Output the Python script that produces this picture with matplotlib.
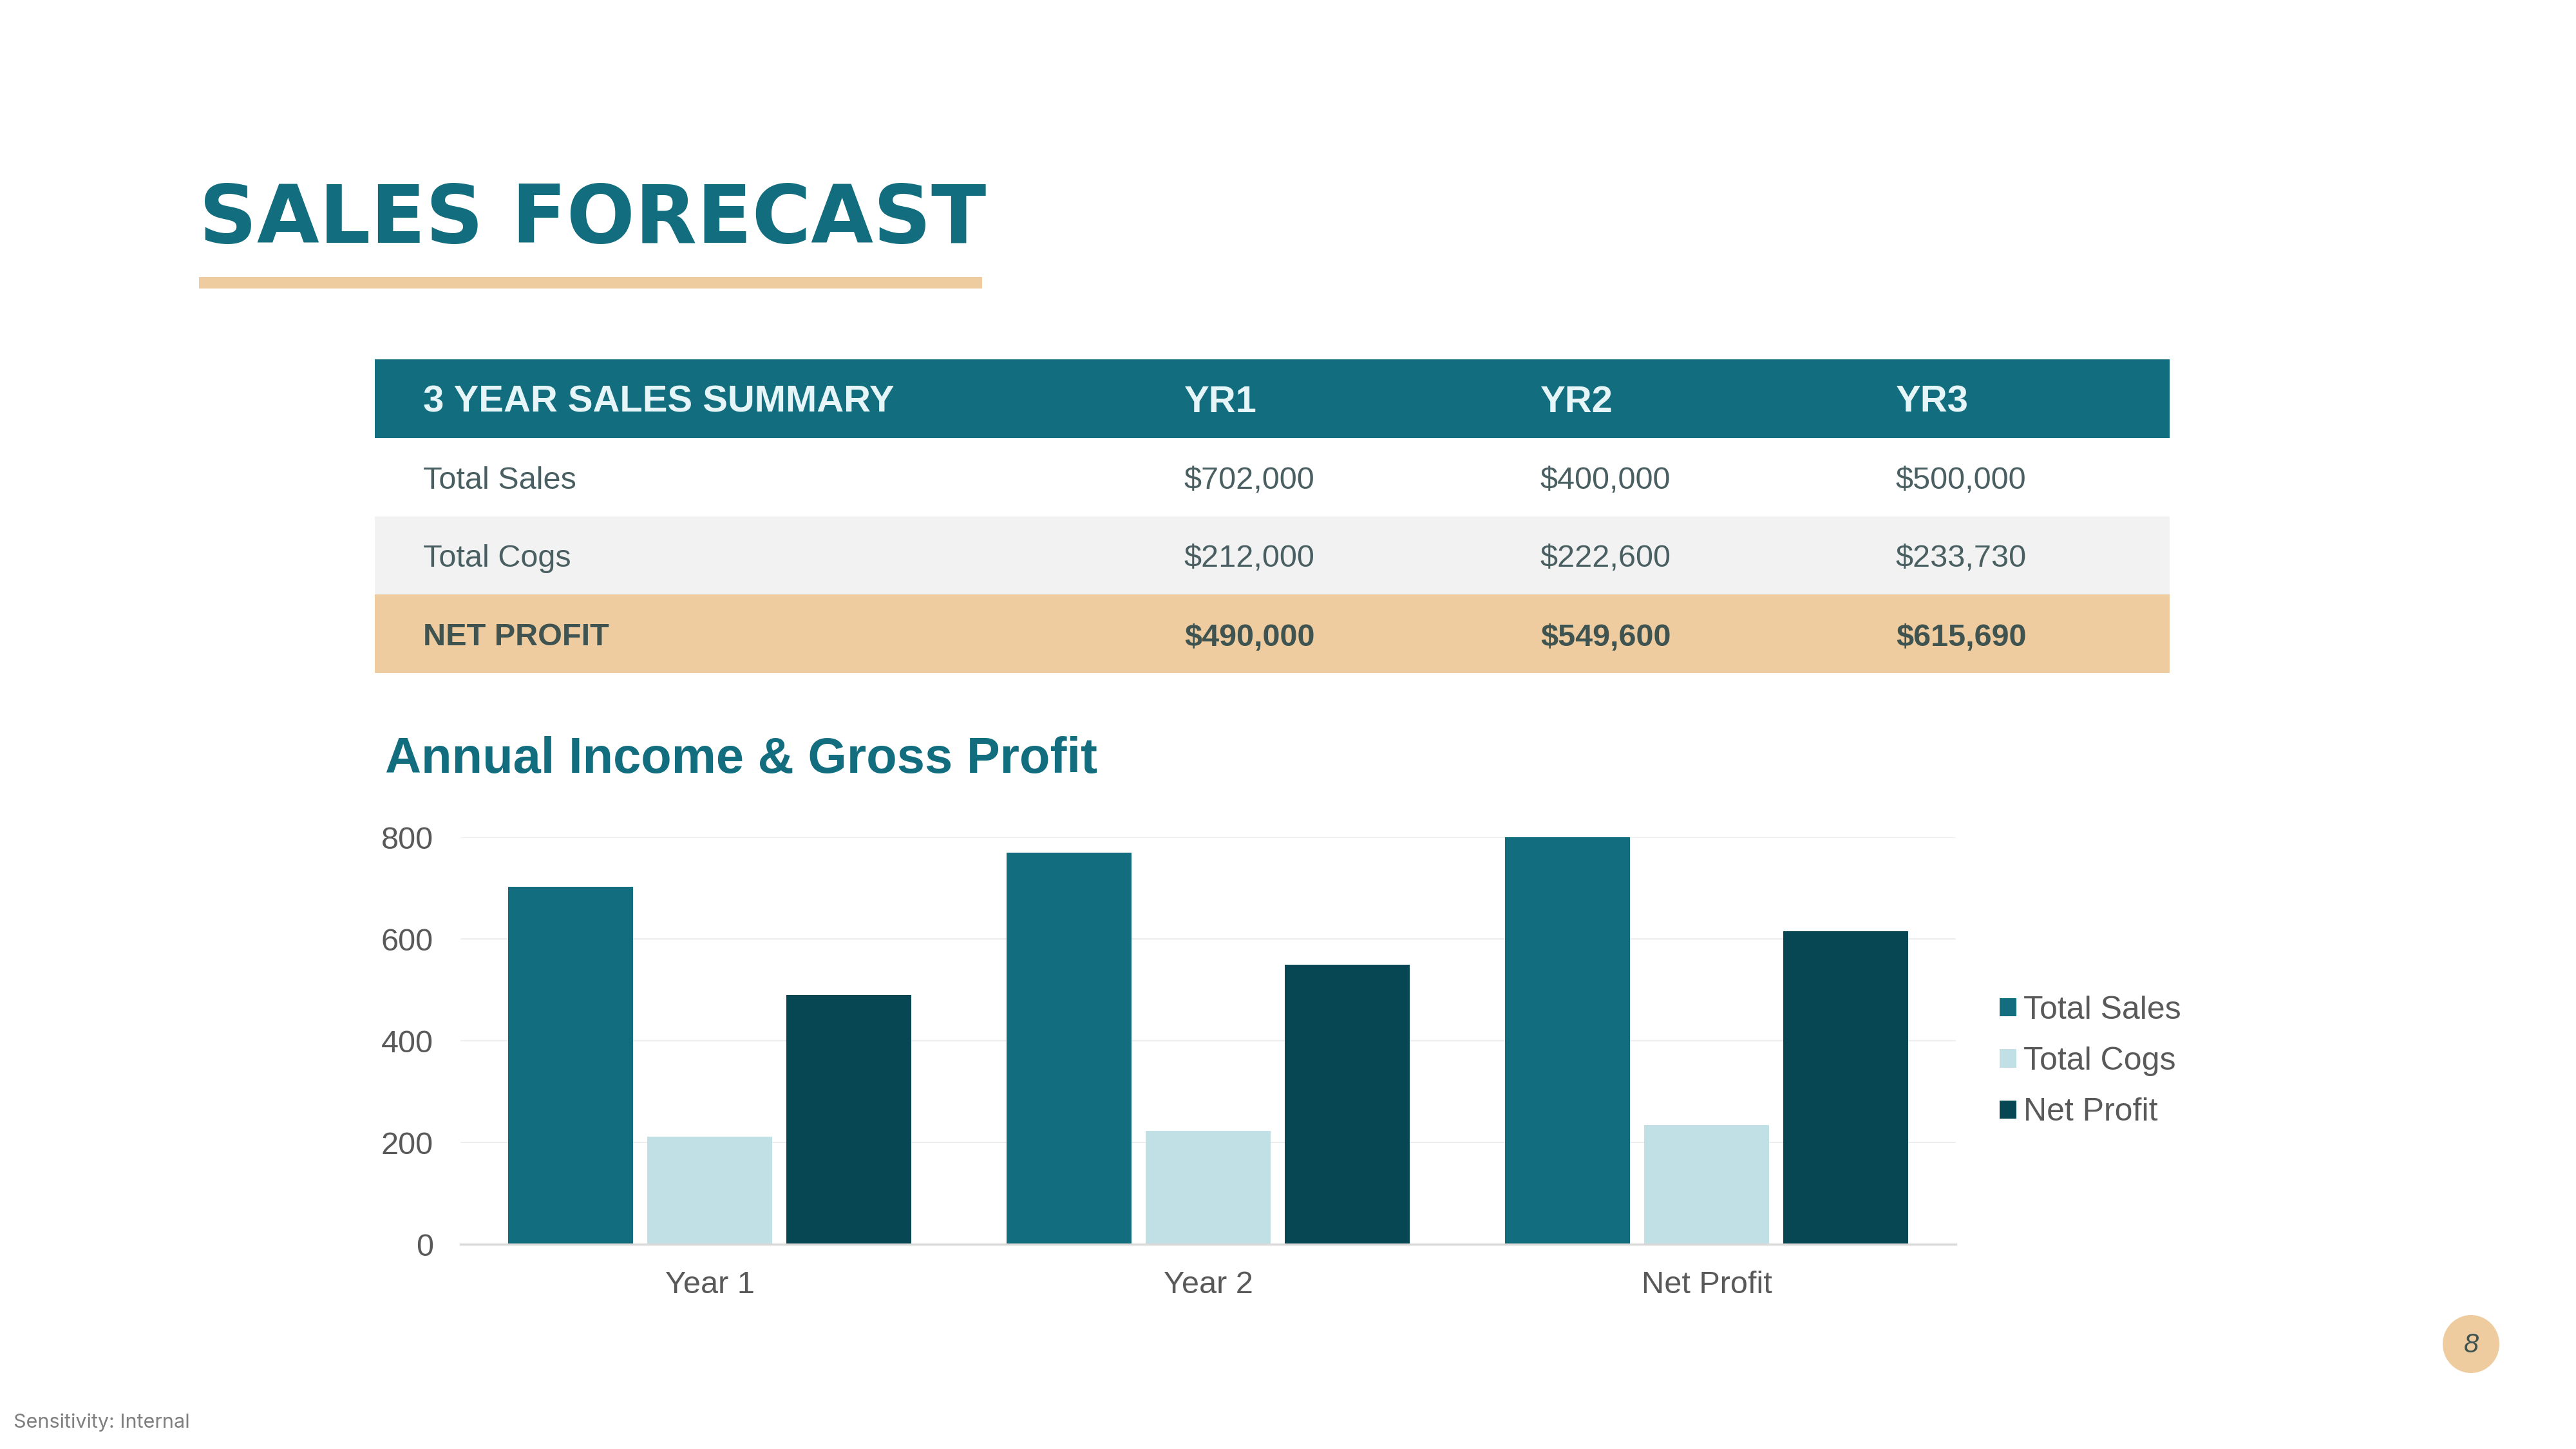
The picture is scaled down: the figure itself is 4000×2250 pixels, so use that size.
import matplotlib
matplotlib.use("Agg")
import matplotlib.pyplot as plt
from matplotlib.patches import Rectangle, Ellipse
import numpy as np

# ---- data ----
table_header = ["3 YEAR SALES SUMMARY", "YR1", "YR2", "YR3"]
row_labels = ["Total Sales", "Total Cogs", "NET PROFIT"]
total_sales_txt = ["$702,000", "$400,000", "$500,000"]
total_cogs_txt = ["$212,000", "$222,600", "$233,730"]
net_profit_txt = ["$490,000", "$549,600", "$615,690"]

categories = ["Year 1", "Year 2", "Net Profit"]
series_names = ["Total Sales", "Total Cogs", "Net Profit"]
total_sales = [702, 770, 800]
total_cogs = [212, 222.6, 233.73]
net_profit = [490, 549.6, 615.69]
y_ticks = [0, 200, 400, 600, 800]

TEAL = "#126E7E"
LIGHT = "#C0E0E6"
DARK = "#074753"
BEIGE = "#EFCC9F"
ROWGREY = "#F2F2F2"
TXT = "#4A5F61"
TXT_BOLD = "#3F5450"
HEAD_TXT = "#E6F5F7"
AXTXT = "#595959"

W, H = 4000, 2250
fig = plt.figure(figsize=(40, 22.5), dpi=100)
fig.patch.set_facecolor("white")

# overlay in pixel coordinates (origin top-left)
page = fig.add_axes([0, 0, 1, 1])
page.set_xlim(0, W)
page.set_ylim(H, 0)
page.axis("off")

# title + underline
page.text(309, 377, "SALES FORECAST", fontsize=90, fontweight="bold",
          family="DejaVu Sans", color=TEAL, va="baseline", ha="left")
page.add_patch(Rectangle((309, 430), 1216, 18, color=BEIGE, lw=0))

# summary table
tab_left, tab_right = 582, 3369
row_edges = [558, 680, 802, 923, 1045]
row_fills = [TEAL, "white", ROWGREY, BEIGE]
col_x = [657, 1839, 2392, 2944]
for i, fill in enumerate(row_fills):
    page.add_patch(Rectangle((tab_left, row_edges[i]), tab_right - tab_left,
                             row_edges[i + 1] - row_edges[i], color=fill, lw=0))

def row_baseline(i, cap):
    return (row_edges[i] + row_edges[i + 1]) / 2 + cap / 2

for x, label in zip(col_x, table_header):
    page.text(x, row_baseline(0, 41), label, fontsize=41.8, fontweight="bold",
              family="Liberation Sans", color=HEAD_TXT, va="baseline")

body_rows = [total_sales_txt, total_cogs_txt, net_profit_txt]
for r, (label, vals) in enumerate(zip(row_labels, body_rows)):
    bold = r == 2
    cells = [label] + vals
    for x, txt in zip(col_x, cells):
        page.text(x, row_baseline(r + 1, 36), txt, fontsize=35,
                  fontweight="bold" if bold else "normal",
                  family="Liberation Sans", color=TXT_BOLD if bold else TXT,
                  va="baseline")

# chart title
page.text(598, 1200, "Annual Income & Gross Profit", fontsize=56,
          fontweight="bold", family="Liberation Sans", color=TEAL, va="baseline")

# page number + footer
page.add_patch(Ellipse((3837, 2087), 88, 90, color=BEIGE, lw=0))
page.text(3837, 2089, "8", fontsize=30, style="italic", family="Liberation Sans",
          color=TXT_BOLD, ha="center", va="center")
page.text(21, 2217, "Sensitivity: Internal", fontsize=22, family="Inter",
          color="#7F7F7F", va="baseline")

# bar chart
ax_l, ax_r, ax_b, ax_t = 715, 3037, 1932, 1300
ax = fig.add_axes([ax_l / W, (H - ax_b) / H, (ax_r - ax_l) / W, (ax_b - ax_t) / H])
x = np.arange(len(categories))
step, width = 0.279, 0.25
colors = [TEAL, LIGHT, DARK]
for k, (vals, name) in enumerate(zip([total_sales, total_cogs, net_profit], series_names)):
    ax.bar(x + (k - 1) * step, vals, width, color=colors[k], label=name, zorder=3)

ax.set_xlim(-0.5, len(categories) - 0.5)
ax.set_ylim(0, 800)
ax.set_yticks(y_ticks)
ax.set_xticks(x)
ax.set_xticklabels(categories)
ax.grid(axis="y", color="#EEEEEE", lw=1.5, zorder=0)
for side in ["top", "right", "left"]:
    ax.spines[side].set_visible(False)
ax.spines["bottom"].set_color("#D9D9D9")
ax.spines["bottom"].set_linewidth(2.5)
ax.spines["bottom"].set_zorder(4)
ax.tick_params(axis="y", length=0, pad=30.5, labelsize=35, labelcolor=AXTXT)
ax.tick_params(axis="x", length=0, pad=29.5, labelsize=35, labelcolor=AXTXT)
for lbl in ax.get_xticklabels() + ax.get_yticklabels():
    lbl.set_family("Liberation Sans")

leg = fig.legend(loc="center left", bbox_to_anchor=(3105 / W, (H - 1648) / H),
                 frameon=False, prop={"family": "Liberation Sans", "size": 36},
                 handlelength=0.52, handleheight=0.5, handletextpad=0.22,
                 labelspacing=0.67, borderpad=0, borderaxespad=0)
for t in leg.get_texts():
    t.set_color(AXTXT)

fig.savefig("out.png", dpi=100, facecolor="white")
